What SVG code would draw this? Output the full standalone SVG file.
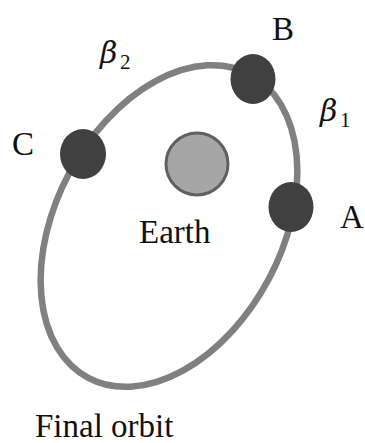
<svg xmlns="http://www.w3.org/2000/svg" width="365" height="443" viewBox="0 0 365 443">
<style>
.lbl{font-family:"Liberation Serif","Times New Roman",serif;font-size:33px;fill:#111}
.beta{font-family:"DejaVu Serif","Liberation Serif",serif;font-style:italic;font-size:30px;fill:#111}
.sub{font-family:"Liberation Serif","Times New Roman",serif;font-size:21px;fill:#111}
.sat{fill:#404040}
</style>
<rect width="365" height="443" fill="#fff"/>
<g id="orbit">
<ellipse cx="169" cy="226" rx="172" ry="113" transform="rotate(-62 169 226)" fill="none" stroke="#808080" stroke-width="6.5"/>
</g>
<g id="earth">
<circle cx="197" cy="164" r="31" fill="#a6a6a6" stroke="#606060" stroke-width="3"/>
<text class="lbl" x="139" y="243">Earth</text>
</g>
<g id="A">
<ellipse class="sat" cx="291" cy="207" rx="22.5" ry="25"/>
<text class="lbl" x="340" y="228">A</text>
</g>
<g id="B">
<ellipse class="sat" cx="253" cy="79" rx="22.5" ry="25"/>
<text class="lbl" x="272" y="40">B</text>
</g>
<g id="C">
<ellipse class="sat" cx="83" cy="154" rx="23" ry="25"/>
<text class="lbl" x="12" y="155">C</text>
</g>
<g id="beta2">
<text class="beta" x="100" y="63">β</text>
<text class="sub" x="120" y="69">2</text>
</g>
<g id="beta1">
<text class="beta" x="320" y="121">β</text>
<text class="sub" x="340" y="127">1</text>
</g>
<g id="title">
<text class="lbl" x="35" y="437">Final orbit</text>
</g>
</svg>
